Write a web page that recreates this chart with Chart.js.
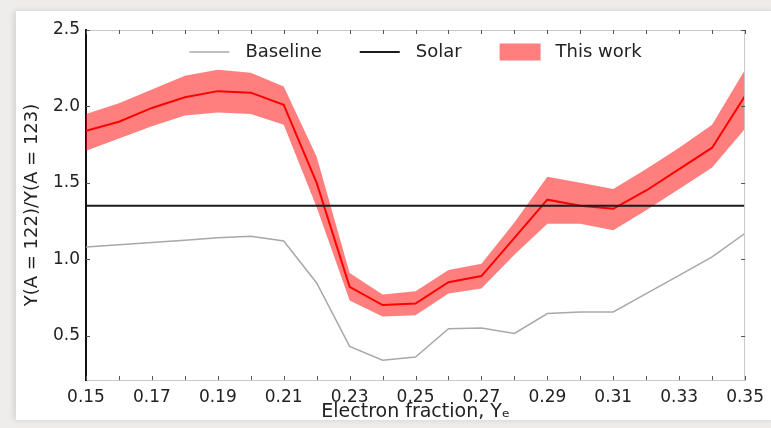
<!DOCTYPE html>
<html>
<head>
<meta charset="utf-8">
<script src="https://cdn.jsdelivr.net/npm/chart.js@4.4.1/dist/chart.umd.min.js"></script>
<style>
  html, body { margin: 0; padding: 0; background: #eeedeb; }
  body { width: 771px; height: 428px; position: relative; overflow: hidden; }
  #card { position: absolute; left: 16px; top: 11px; width: 760px; height: 409px; background: #ffffff;
          box-shadow: -2px 0 6px rgba(0,0,0,0.12); }
  #wrap { position: absolute; left: 0; top: 0; width: 771px; height: 428px; }
</style>
</head>
<body>
<div id="card"></div>
<div id="wrap"><canvas id="c" width="771" height="428"></canvas></div>
<script>
// ---- data ----
const electronFraction = [0.15,0.16,0.17,0.18,0.19,0.20,0.21,0.22,0.23,0.24,0.25,0.26,0.27,0.28,0.29,0.30,0.31,0.32,0.33,0.34,0.35];
const thisWork      = [1.84,1.90,1.99,2.06,2.10,2.09,2.01,1.50,0.82,0.70,0.71,0.85,0.89,1.14,1.39,1.35,1.33,1.45,1.59,1.73,2.07];
const thisWorkUpper = [1.95,2.02,2.11,2.20,2.24,2.22,2.13,1.67,0.91,0.77,0.79,0.93,0.97,1.24,1.54,1.50,1.46,1.59,1.73,1.88,2.24];
const thisWorkLower = [1.71,1.79,1.87,1.94,1.96,1.95,1.88,1.34,0.73,0.625,0.634,0.776,0.808,1.03,1.233,1.233,1.19,1.32,1.46,1.60,1.855];
const baseline      = [1.08,1.095,1.11,1.125,1.14,1.15,1.12,0.845,0.43,0.34,0.36,0.545,0.55,0.515,0.645,0.655,0.655,0.775,0.895,1.015,1.17];
const solarX = [0.15, 0.35];
const solarRatio = [1.35, 1.35];
const xTickValues = [0.15,0.17,0.19,0.21,0.23,0.25,0.27,0.29,0.31,0.33,0.35];
const xMinorTickValues = [0.16,0.18,0.20,0.22,0.24,0.26,0.28,0.30,0.32,0.34];
const yTickValues = [0.5,1.0,1.5,2.0,2.5];
const legendLabels = ['Baseline', 'Solar', 'This work'];
const xTitle = 'Electron fraction, Y\u2091';
const yTitle = 'Y(A = 122)/Y(A = 123)';

const pts = (xs, ys) => xs.map((x, i) => ({ x: x, y: ys[i] }));

const FONT = "'DejaVu Sans', sans-serif";
const TXT = '#222222';

const decor = {
  id: 'decor',
  afterDraw(chart) {
    const ctx = chart.ctx;
    const a = chart.chartArea;
    const xs = chart.scales.x, ys = chart.scales.y;
    ctx.save();
    // top and right spines
    ctx.strokeStyle = '#c8c8c8';
    ctx.lineWidth = 1;
    ctx.beginPath();
    ctx.moveTo(a.left, a.top + 0.5); ctx.lineTo(a.right, a.top + 0.5);
    ctx.moveTo(a.right - 0.5, a.top); ctx.lineTo(a.right - 0.5, a.bottom);
    ctx.stroke();
    // inward ticks
    ctx.strokeStyle = '#555555';
    ctx.lineWidth = 1;
    ctx.beginPath();
    xTickValues.concat(xMinorTickValues).forEach(v => {
      const px = Math.round(xs.getPixelForValue(v)) + 0.5;
      ctx.moveTo(px, a.bottom); ctx.lineTo(px, a.bottom - 4);
      ctx.moveTo(px, a.top); ctx.lineTo(px, a.top + 4);
    });
    yTickValues.forEach(v => {
      const py = Math.round(ys.getPixelForValue(v)) + 0.5;
      ctx.moveTo(a.left, py); ctx.lineTo(a.left + 4, py);
      ctx.moveTo(a.right, py); ctx.lineTo(a.right - 4, py);
    });
    ctx.stroke();
    // legend (inside plot, top centre)
    ctx.font = '18px ' + FONT;
    ctx.textBaseline = 'middle';
    const handle = 40, gapText = 16, gapItem = 38;
    const widths = legendLabels.map(t => ctx.measureText(t).width);
    const total = widths.reduce((s, w) => s + handle + gapText + w, 0) + gapItem * (legendLabels.length - 1);
    let x = (a.left + a.right) / 2 - total / 2;
    const y = a.top + 22;
    const styles = [
      { type: 'line', color: '#a8a8a8', width: 1.5 },
      { type: 'line', color: '#1a1a1a', width: 2 },
      { type: 'box', color: 'rgba(255,0,0,0.5)' }
    ];
    legendLabels.forEach((t, i) => {
      const s = styles[i];
      if (s.type === 'line') {
        ctx.strokeStyle = s.color; ctx.lineWidth = s.width;
        ctx.beginPath(); ctx.moveTo(x, y); ctx.lineTo(x + handle, y); ctx.stroke();
      } else {
        ctx.fillStyle = s.color;
        ctx.fillRect(x, y - 8.5, handle + 1, 17);
      }
      ctx.fillStyle = TXT;
      ctx.textAlign = 'left';
      ctx.fillText(t, x + handle + gapText, y);
      x += handle + gapText + widths[i] + gapItem;
    });
    ctx.restore();
  }
};

new Chart(document.getElementById('c'), {
  type: 'line',
  data: {
    datasets: [
      { label: 'Solar', data: pts(solarX, solarRatio), borderColor: '#1a1a1a', borderWidth: 2.2,
        pointRadius: 0, fill: false, order: 0 },
      { label: 'This work', data: pts(electronFraction, thisWork), borderColor: '#ff0000', borderWidth: 2,
        pointRadius: 0, fill: false, order: 1 },
      { label: 'This work upper', data: pts(electronFraction, thisWorkUpper), borderWidth: 0, borderColor: 'rgba(0,0,0,0)',
        backgroundColor: 'rgba(255,0,0,0.5)', pointRadius: 0, fill: '+1', order: 2 },
      { label: 'This work lower', data: pts(electronFraction, thisWorkLower), borderWidth: 0, borderColor: 'rgba(0,0,0,0)',
        pointRadius: 0, fill: false, order: 3 },
      { label: 'Baseline', data: pts(electronFraction, baseline), borderColor: '#a8a8a8', borderWidth: 1.5,
        pointRadius: 0, fill: false, order: 4 }
    ]
  },
  options: {
    responsive: false,
    animation: false,
    events: [],
    layout: { padding: { top: 30, right: 18, left: 0, bottom: 0 } },
    plugins: { legend: { display: false }, tooltip: { enabled: false } },
    elements: { line: { tension: 0 } },
    scales: {
      x: {
        type: 'linear', min: 0.15, max: 0.35,
        afterBuildTicks: s => { s.ticks = xTickValues.map(v => ({ value: v })); },
        afterFit: s => { s.height = 48; },
        ticks: { autoSkip: false, maxRotation: 0, padding: 7, color: TXT, font: { family: FONT, size: 17 },
                 callback: v => Number(v).toFixed(2) },
        grid: { drawOnChartArea: false, drawTicks: false },
        border: { color: '#c8c8c8', width: 1 },
        title: { display: true, text: xTitle, color: TXT, font: { family: FONT, size: 19 }, padding: { top: 0, bottom: 5 } }
      },
      y: {
        type: 'linear', min: 0.21, max: 2.5,
        afterBuildTicks: s => { s.ticks = yTickValues.map(v => ({ value: v })); },
        afterFit: s => { s.width = 86; },
        ticks: { padding: 6, color: TXT, font: { family: FONT, size: 17 }, callback: v => Number(v).toFixed(1) },
        grid: { drawOnChartArea: false, drawTicks: false },
        border: { color: '#111111', width: 2 },
        title: { display: true, text: yTitle, color: TXT, font: { family: FONT, size: 18 }, padding: { top: 22, bottom: 0 } }
      }
    }
  },
  plugins: [decor]
});
</script>
</body>
</html>
